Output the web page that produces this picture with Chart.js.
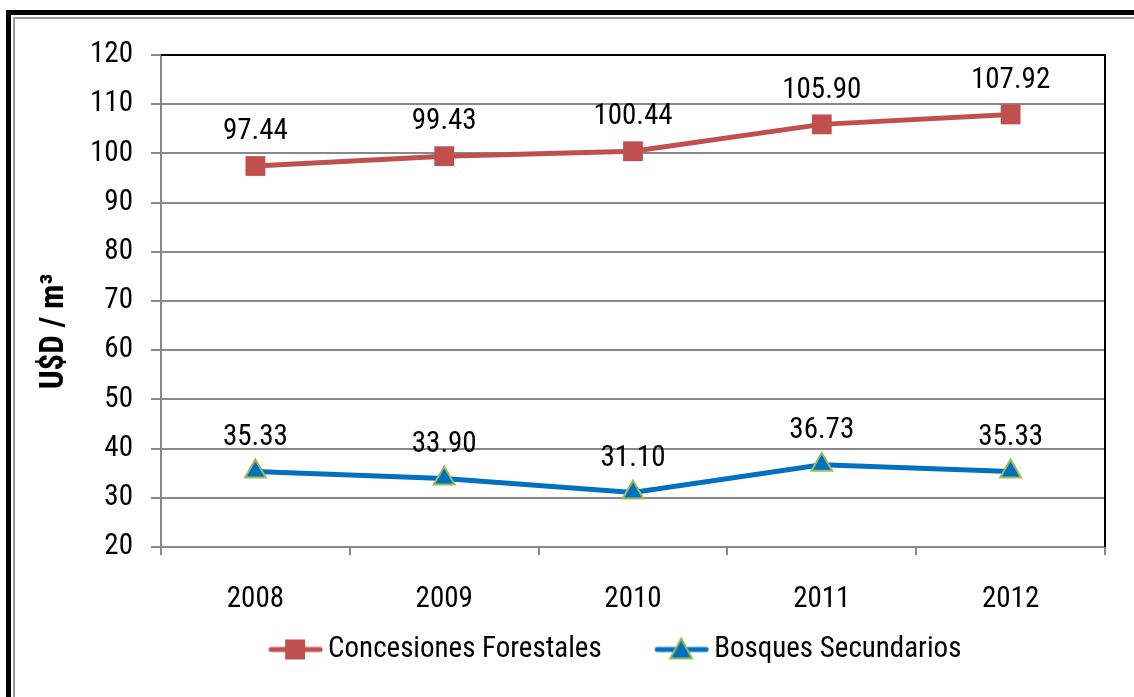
<!DOCTYPE html>
<html>
<head>
<meta charset="utf-8">
<script src="https://cdn.jsdelivr.net/npm/chart.js@4.4.1/dist/chart.umd.min.js"></script>
<style>
  html, body { margin: 0; padding: 0; background: #fff; }
  #wrap { position: relative; width: 1134px; height: 697px; overflow: hidden; }
  .frame1 { position: absolute; left: 6px; top: 10px; width: 1200px; height: 800px; border-left: 5px solid #000; border-top: 5px solid #000; }
  .frame2 { position: absolute; left: 13px; top: 17px; width: 1200px; height: 800px; border-left: 2px solid #999; border-top: 2px solid #999; }
  canvas { position: absolute; left: 0; top: 0; }
</style>
</head>
<body>
<div id="wrap">
  <div class="frame1"></div>
  <div class="frame2"></div>
  <canvas id="chart" width="1134" height="697"></canvas>
</div>
<script>
const years = ['2008', '2009', '2010', '2011', '2012'];
const concesiones = [97.44, 99.43, 100.44, 105.90, 107.92];
const bosques = [35.33, 33.90, 31.10, 36.73, 35.33];
const yTicks = [20, 30, 40, 50, 60, 70, 80, 90, 100, 110, 120];

const FONT = "'Liberation Sans Narrow', 'Arial Narrow', 'Roboto Condensed', 'Liberation Sans', sans-serif";
const FS = 29;
const RED = '#C0504D';
const BLUE = '#0070C0';
const GREEN = '#9BBB59';

// icono de leyenda: linea con marcador, hueco transparente a la izquierda
function legendIcon(kind) {
    const c = document.createElement('canvas');
    c.width = 97; c.height = 26;
    const g = c.getContext('2d');
    const x0 = 97 - 55, cx = x0 + 27, cy = 13;
    g.lineCap = 'round';
    g.lineWidth = 5;
    g.strokeStyle = kind === 'rect' ? RED : BLUE;
    g.beginPath(); g.moveTo(x0 + 3, cy); g.lineTo(94, cy); g.stroke();
    if (kind === 'rect') {
        g.fillStyle = RED;
        g.fillRect(cx - 10, cy - 10, 20, 20);
    } else {
        g.fillStyle = BLUE;
        g.strokeStyle = GREEN;
        g.lineWidth = 2;
        g.beginPath();
        g.moveTo(cx, cy - 11); g.lineTo(cx + 11, cy + 9); g.lineTo(cx - 11, cy + 9); g.closePath();
        g.fill(); g.stroke();
    }
    return c;
}

const labelsPlugin = {
    id: 'valueLabels',
    beforeDatasetsDraw(chart) {
        const { ctx, chartArea: a } = chart;
        ctx.save();
        ctx.strokeStyle = '#000';
        ctx.lineWidth = 2;
        ctx.beginPath();
        ctx.moveTo(a.left, a.top);
        ctx.lineTo(a.right, a.top);
        ctx.lineTo(a.right, a.bottom);
        ctx.stroke();
        ctx.restore();
    },
    afterDatasetsDraw(chart) {
        const ctx = chart.ctx;
        ctx.save();
        ctx.font = FS + 'px ' + FONT;
        ctx.fillStyle = '#000';
        ctx.textAlign = 'center';
        ctx.textBaseline = 'middle';
        chart.data.datasets.forEach((ds, i) => {
            chart.getDatasetMeta(i).data.forEach((pt, j) => {
                ctx.fillText(ds.data[j].toFixed(2), pt.x, pt.y - 34);
            });
        });
        ctx.restore();
    }
};

const ctx = document.getElementById('chart').getContext('2d');
new Chart(ctx, {
    type: 'line',
    data: {
        labels: years,
        datasets: [{
            label: 'Concesiones Forestales',
            data: concesiones,
            borderColor: RED,
            backgroundColor: RED,
            borderWidth: 5,
            pointStyle: 'rect',
            pointRadius: 14,
            pointBorderWidth: 0,
            fill: false
        }, {
            label: 'Bosques Secundarios',
            data: bosques,
            borderColor: BLUE,
            backgroundColor: BLUE,
            borderWidth: 5,
            pointStyle: 'triangle',
            pointRadius: 12,
            pointBorderColor: GREEN,
            pointBorderWidth: 2,
            fill: false
        }]
    },
    options: {
        responsive: false,
        animation: false,
        layout: { padding: { left: 92, top: 55, right: 29, bottom: 23 } },
        plugins: {
            tooltip: { enabled: false },
            legend: {
                position: 'bottom',
                labels: {
                    usePointStyle: true,
                    pointStyleWidth: 78,
                    padding: 20,
                    color: '#000',
                    font: { family: FONT, size: FS },
                    generateLabels(chart) {
                        return chart.data.datasets.map((ds, i) => ({
                            text: ds.label,
                            pointStyle: legendIcon(i === 0 ? 'rect' : 'triangle'),
                            fontColor: '#000',
                            lineWidth: 0,
                            datasetIndex: i
                        }));
                    }
                }
            }
        },
        scales: {
            x: {
                offset: true,
                afterFit(s) { s.height = 68; },
                grid: { offset: true, drawOnChartArea: false, drawTicks: true, tickLength: 8, color: '#888', lineWidth: 2 },
                border: { color: '#888', width: 2 },
                ticks: { color: '#000', padding: 27, font: { family: FONT, size: FS } }
            },
            y: {
                min: 20,
                max: 120,
                afterFit(s) { s.width = 69; },
                afterBuildTicks(s) { s.ticks = yTicks.map(v => ({ value: v })); },
                grid: { color: '#888', lineWidth: 2, tickLength: 10 },
                border: { color: '#888', width: 2 },
                ticks: { color: '#000', padding: 18, font: { family: FONT, size: FS } },
                title: {
                    display: true,
                    text: 'U$D / m³\u00A0\u00A0\u00A0\u00A0\u00A0\u00A0\u00A0\u00A0',
                    color: '#000',
                    padding: { top: -57, bottom: 0 },
                    font: { family: FONT, size: 33, weight: 'bold' }
                }
            }
        }
    },
    plugins: [labelsPlugin]
});
</script>
</body>
</html>
